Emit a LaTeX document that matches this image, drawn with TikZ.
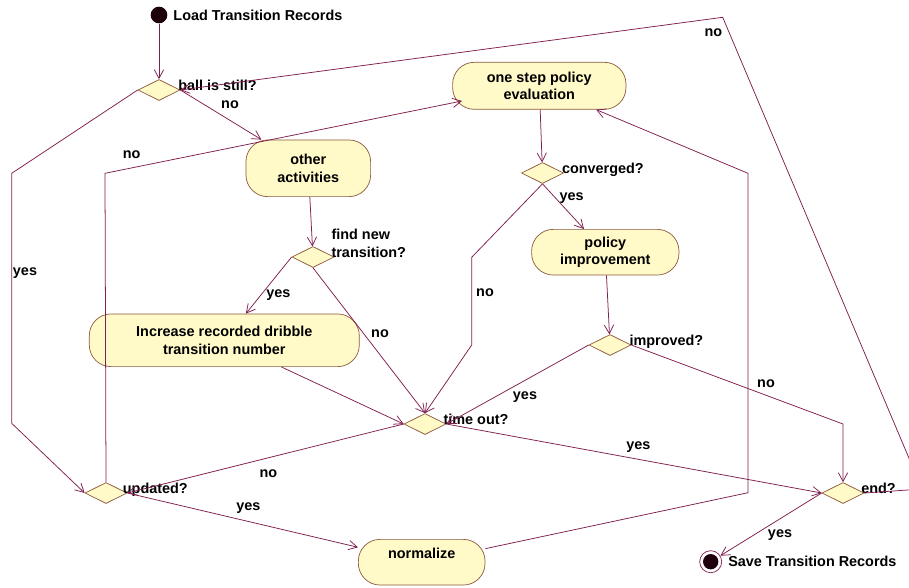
\documentclass[tikz,border=0pt]{standalone}
\usepackage{fontspec}
\setmainfont{Liberation Sans}
\usetikzlibrary{arrows.meta, positioning, shapes.geometric}

\definecolor{flowline}{RGB}{128,32,80}
\definecolor{shapeline}{RGB}{140,90,60}
\definecolor{shapefill}{RGB}{255,250,200}
\definecolor{dotfill}{RGB}{30,0,12}
\newcommand{\flowfont}{\fontsize{12.3pt}{15pt}\selectfont\bfseries}

\begin{document}
\begin{tikzpicture}[x=0.3mm, y=-0.3mm,
    activity/.style={rectangle, rounded corners=6.5mm,
                     draw=shapeline, fill=shapefill, line width=0.6pt,
                     align=center, inner sep=0pt, font=\flowfont},
    decision/.style={diamond, draw=shapeline, fill=shapefill, line width=0.6pt,
                     minimum width=12.6mm, minimum height=6.3mm, inner sep=0pt},
    declabel/.style={anchor=base west, font=\flowfont, inner sep=0pt, align=left},
    guard/.style={font=\flowfont, inner sep=0pt},
    edge/.style={-{Straight Barb[length=2.6mm, width=2.8mm]}, draw=flowline, line width=0.65pt}
  ]
    \useasboundingbox (0,0) rectangle (909,587);

    % start and final states
    \node[circle, fill=dotfill, inner sep=0pt, minimum size=5mm] (start) at (159,15) {};
    \node[guard, right=1.7mm of start] (startText) {Load Transition Records};
    \node[circle, draw=flowline, line width=0.6pt, inner sep=0pt, minimum size=6.6mm,
          path picture={\fill[dotfill] (path picture bounding box.center) circle (2.3mm);}]
          (final) at (710.7,561.7) {};
    \node[guard, right=1.8mm of final] (finalText) {Save Transition Records};

    % activities
    \node[activity, minimum width=52mm, minimum height=14.1mm] (evalBox) at (539.3,85.8) {one step policy\\evaluation};
    \node[activity, minimum width=37.4mm, minimum height=17mm] (otherBox) at (308.3,168.3) {other\\activities};
    \node[activity, minimum width=44.2mm, minimum height=13.7mm] (improveBox) at (605.3,252.2) {policy\\improvement};
    \node[activity, minimum width=81mm, minimum height=15.8mm] (increaseBox) at (224.3,340.3) {Increase recorded dribble\\transition number};
    \node[activity, minimum width=38mm, minimum height=13.7mm, text depth=16pt] (normBox) at (421.7,562.2) {normalize};

    % decisions
    \node[decision] (ballStill) at (159,90) {};
    \node[decision] (findNew) at (313,257) {};
    \node[decision] (converged) at (542.5,173) {};
    \node[decision] (improved) at (610,345) {};
    \node[decision] (timeOut) at (425,424) {};
    \node[decision] (updated) at (106,493) {};
    \node[decision] (endDec) at (843,493) {};

    \node[declabel] at ([xshift=-0.7mm]ballStill.east) {ball is still?};
    \node[declabel] at ([xshift=-0.9mm]findNew.east) {find new\\transition?};
    \node[declabel] at ([xshift=-0.6mm]converged.east) {converged?};
    \node[declabel] at ([xshift=-0.6mm]improved.east) {improved?};
    \node[declabel] at ([xshift=-0.9mm]timeOut.east) {time out?};
    \node[declabel] at ([xshift=-1.4mm]updated.east) {updated?};
    \node[declabel] at ([xshift=-1mm]endDec.east) {end?};

    % bends
    \coordinate (stillYesBend) at (11.7,173.3);
    \coordinate (stillYesDown) at (11.7,423.3);
    \coordinate (updNoBend) at (105,173.3);
    \coordinate (convNoBend) at (471.7,257.3);
    \coordinate (convNoDown) at (471.7,345);
    \coordinate (impNoBend) at (843,424);
    \coordinate (normBend) at (748,492.7);
    \coordinate (normTop) at (748,173.3);
    \coordinate (endNoRight) at (922,489);
    \coordinate (endNoTop) at (722.7,17.3);

    \draw[edge] (start) -- (ballStill);
    \draw[edge] (ballStill.east) -- (otherBox);
    \draw[edge] (ballStill.west) -- (stillYesBend) -- (stillYesDown) -- (updated.west);
    \draw[edge] (updated.north) -- (updNoBend) -- ([shift={(2.9mm,2.6mm)}]evalBox.south west);
    \draw[edge] (otherBox) -- (findNew);
    \draw[edge] (findNew.west) -- (increaseBox);
    \draw[edge] (findNew.south) -- (timeOut.north);
    \draw[edge] (increaseBox) -- (timeOut.west);
    \draw[edge] (timeOut.west) -- (updated.east);
    \draw[edge] (updated.east) -- (normBox);
    \draw[edge] (normBox) -- (normBend) -- (normTop) -- (evalBox);
    \draw[edge] (evalBox) -- (converged);
    \draw[edge] (converged.south) -- (improveBox);
    \draw[edge] (converged.south) -- (convNoBend) -- (convNoDown) -- (timeOut.north);
    \draw[edge] (improveBox) -- (improved);
    \draw[edge] (improved.west) -- (timeOut.east);
    \draw[edge] (improved.east) -- (impNoBend) -- (endDec.north);
    \draw[edge] (timeOut.east) -- (endDec.west);
    \draw[edge] (endDec.west) -- (final);
    \draw[edge] (endDec.east) -- (endNoRight) -- (endNoTop) -- (ballStill.east);

    % guards
    \node[guard] (stillNo) at (230,105) {no};
    \node[guard] (stillYes) at (25,273) {yes};
    \node[guard] (updNo) at (131.7,155) {no};
    \node[guard] (findYes) at (278.3,295) {yes};
    \node[guard] (findNo) at (380,333.3) {no};
    \node[guard] (convNo) at (485,292.7) {no};
    \node[guard] (convYes) at (571.7,197.7) {yes};
    \node[guard] (impYes) at (525,397.3) {yes};
    \node[guard] (impNo) at (766,384) {no};
    \node[guard] (timeYes) at (638.3,446.7) {yes};
    \node[guard] (timeNo) at (268.3,474) {no};
    \node[guard] (updYes) at (248.3,508.3) {yes};
    \node[guard] (endYes) at (780,535) {yes};
    \node[guard] (endNo) at (713.3,32.7) {no};
\end{tikzpicture}
\end{document}
